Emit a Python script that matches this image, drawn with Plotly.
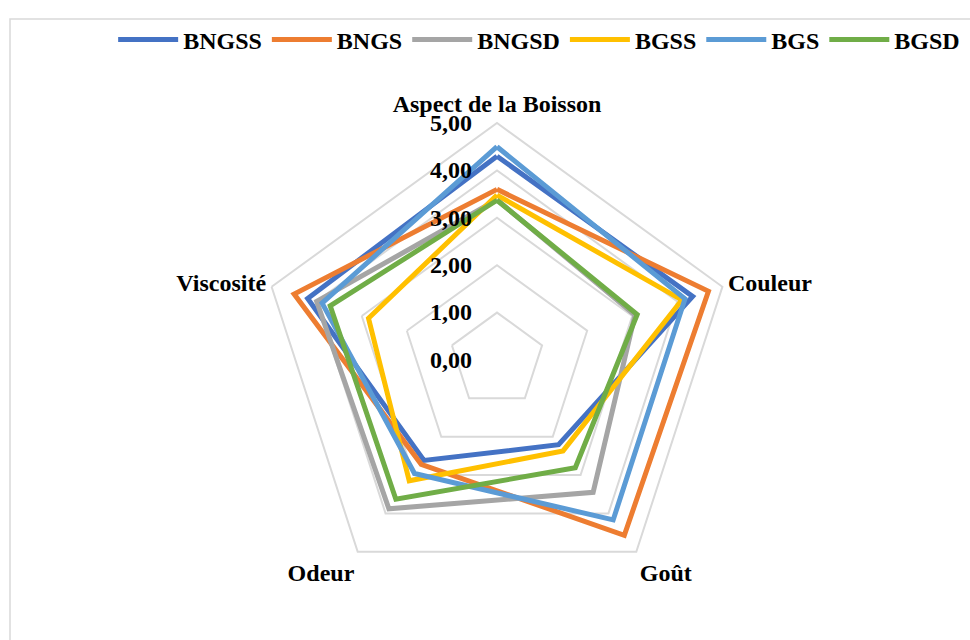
import plotly.graph_objects as go

categories = ["Aspect de la Boisson", "Couleur", "Goût", "Odeur", "Viscosité"]
series_names = ["BNGSS", "BNGS", "BNGSD", "BGSS", "BGS", "BGSD"]
BNGSS = [4.30, 4.34, 2.21, 2.62, 4.20]
BNGS = [3.60, 4.69, 4.57, 2.72, 4.50]
BNGSD = [3.38, 3.06, 3.45, 3.88, 4.00]
BGSS = [3.48, 4.10, 2.37, 3.15, 2.85]
BGS = [4.50, 4.17, 4.17, 2.96, 3.88]
BGSD = [3.37, 3.11, 2.81, 3.63, 3.70]
tick_values = [0, 1, 2, 3, 4, 5]

values = [BNGSS, BNGS, BNGSD, BGSS, BGS, BGSD]
colors = ["#4472C4", "#ED7D31", "#A5A5A5", "#FFC000", "#5B9BD5", "#70AD47"]

FONT = "Liberation Serif"
bold = dict(family=FONT, size=24, color="black", weight="bold")

fig = go.Figure()
for name, vals, col in zip(series_names, values, colors):
    fig.add_trace(go.Scatterpolar(
        r=vals + vals[:1],
        theta=categories + categories[:1],
        mode="lines",
        name=name,
        line=dict(color=col, width=5),
    ))

W, H = 970, 640
cx, cy, R = 497, 360, 237
fig.update_layout(
    width=W, height=H,
    margin=dict(l=0, r=0, t=0, b=0),
    paper_bgcolor="white",
    plot_bgcolor="white",
    separators=", ",
    font=bold,
    polar=dict(
        domain=dict(x=[(cx - R) / W, (cx + R) / W], y=[(H - cy - R) / H, (H - cy + R) / H]),
        bgcolor="white",
        gridshape="linear",
        radialaxis=dict(
            range=[0, 5],
            tickvals=tick_values,
            tickformat=".2f",
            angle=90,
            tickangle=90,
            side="counterclockwise",
            showline=False,
            ticks="outside",
            ticklen=16,
            tickcolor="rgba(0,0,0,0)",
            gridcolor="#D9D9D9",
            gridwidth=2,
            tickfont=bold,
        ),
        angularaxis=dict(
            rotation=90,
            direction="clockwise",
            showgrid=False,
            showline=True,
            linecolor="#D9D9D9",
            linewidth=2,
            ticks="",
            tickfont=bold,
        ),
    ),
    legend=dict(
        orientation="h",
        x=0.995, xanchor="right",
        y=1 - 40 / H, yanchor="middle",
        font=bold,
        itemwidth=60,
        tracegroupgap=0,
        bgcolor="rgba(0,0,0,0)",
    ),
    shapes=[dict(
        type="rect", xref="paper", yref="paper",
        x0=10 / W, x1=1.05, y0=-0.05, y1=(H - 19) / H,
        line=dict(color="#D9D9D9", width=1.5), fillcolor="rgba(0,0,0,0)",
        layer="below",
    )],
)

fig.write_html(
    "out.html",
    config={"displayModeBar": False},
    post_script="document.body.style.margin='0';document.body.style.overflow='hidden';",
)
